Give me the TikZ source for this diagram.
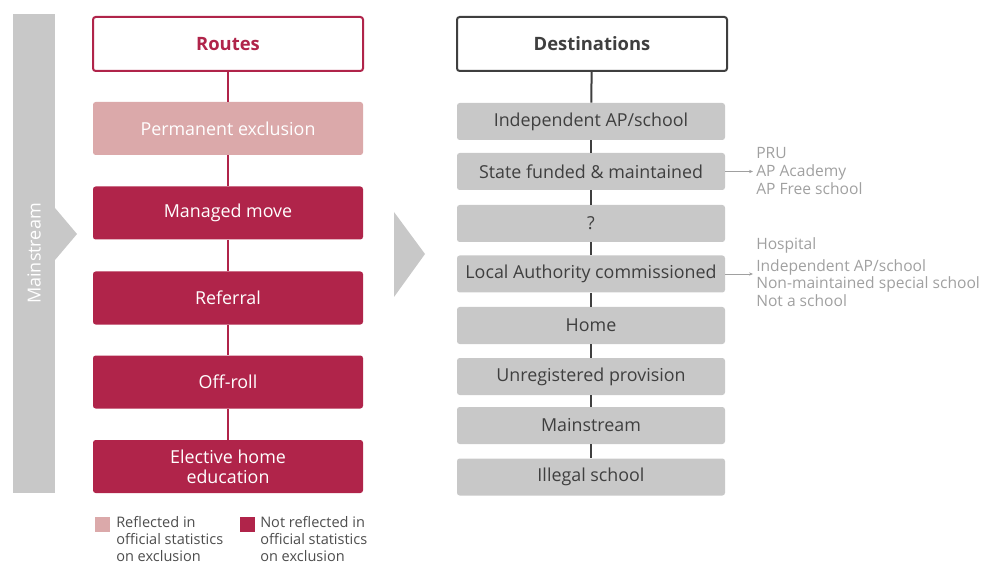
\documentclass[tikz,border=0pt]{standalone}
\usepackage{fontspec}
\setmainfont{Open Sans}
\usepackage{tikz}
\usetikzlibrary{arrows.meta}

\definecolor{routered}{HTML}{B0244A}
\definecolor{routepink}{HTML}{DBA9AA}
\definecolor{boxgrey}{HTML}{C8C8C8}
\definecolor{darkline}{HTML}{3F3F3F}
\definecolor{listgrey}{HTML}{A0A0A0}
\definecolor{legendtext}{HTML}{4D4D4D}

\tikzset{
  headbox/.style={fill=white,line width=1.5pt,rounded corners=2pt,
    minimum width=202.5pt,minimum height=40.5pt,
    font=\fontsize{13.8}{16}\selectfont\bfseries},
  routehead/.style={headbox,draw=routered,text=routered},
  desthead/.style={headbox,draw=darkline,text=darkline},
  routebox/.style={rounded corners=2pt,minimum width=202.5pt,minimum height=39.75pt,
    text=white,align=center,font=\fontsize{13.4}{15}\selectfont},
  destbox/.style={fill=boxgrey,rounded corners=2pt,minimum width=201pt,minimum height=27.75pt,
    text=darkline,font=\fontsize{13.4}{15}\selectfont},
  sidelist/.style={anchor=west,inner sep=0pt,text=listgrey,align=left,
    font=\fontsize{11.7}{13.2}\selectfont},
  legendkey/.style={minimum size=11.25pt,inner sep=0pt},
  legendlabel/.style={anchor=north west,inner sep=0pt,text=legendtext,align=left,
    font=\fontsize{10.9}{12.75}\selectfont},
}

\begin{document}
\begin{tikzpicture}[x=0.75pt,y=-0.75pt]
\useasboundingbox (0,0) rectangle (984,566);

% mainstream bar and the two big arrows
\node[fill=boxgrey,rotate=90,minimum width=359.25pt,minimum height=31.5pt,
  text=white,font=\fontsize{13.5}{15}\selectfont] (mainstream) at (34,253.5) {Mainstream};
\fill[boxgrey] (55,208) -- (77,234) -- (55,260) -- cycle;
\fill[boxgrey] (394,212) -- (425,254) -- (394,297) -- cycle;

% routes
\node[routehead] (routes) at (228,44) {Routes};
\node[routebox,fill=routepink] (permanent) at (228,128.5) {Permanent exclusion};
\node[routebox,fill=routered] (managed) at (228,213) {Managed move};
\node[routebox,fill=routered] (referral) at (228,298) {Referral};
\node[routebox,fill=routered] (offroll) at (228,382) {Off-roll};
\node[routebox,fill=routered] (elective) at (228,466.5) {Elective home\\education};
\draw[routered,line width=1.5pt] (routes) -- (permanent);
\draw[routered,line width=1.5pt] (permanent) -- (managed);
\draw[routered,line width=1.5pt] (managed) -- (referral);
\draw[routered,line width=1.5pt] (referral) -- (offroll);
\draw[routered,line width=1.5pt] (offroll) -- (elective);

% destinations
\node[desthead] (dest) at (592,44) {Destinations};
\node[destbox] (independent) at (591,121.5) {Independent AP/school};
\node[destbox] (statefunded) at (591,171.5) {State funded \& maintained};
\node[destbox] (unknown) at (591,223.5) {?};
\node[destbox] (lacomm) at (591,274) {Local Authority commissioned};
\node[destbox] (home) at (591,325.5) {Home};
\node[destbox] (unregistered) at (591,376.5) {Unregistered provision};
\node[destbox] (mainschool) at (591,425.5) {Mainstream};
\node[destbox] (illegal) at (591,477) {Illegal school};
\draw[darkline,line width=1.5pt] (dest) -- (independent);
\draw[darkline,line width=1.5pt] (independent) -- (statefunded);
\draw[darkline,line width=1.5pt] (statefunded) -- (unknown);
\draw[darkline,line width=1.5pt] (unknown) -- (lacomm);
\draw[darkline,line width=1.5pt] (lacomm) -- (home);
\draw[darkline,line width=1.5pt] (home) -- (unregistered);
\draw[darkline,line width=1.5pt] (unregistered) -- (mainschool);
\draw[darkline,line width=1.5pt] (mainschool) -- (illegal);

% side lists
\node[sidelist] (statelist) at (756,171) {PRU\\AP Academy\\AP Free school};
\node[sidelist] (lalist) at (756,272) {Hospital\\[3pt]Independent AP/school\\Non-maintained special school\\Not a school};
\draw[listgrey,line width=0.6pt,-{Stealth[length=3pt,width=2.5pt]}] (statefunded.east) -- ([xshift=-2.25pt]statefunded.east -| statelist.west);
\draw[listgrey,line width=0.6pt,-{Stealth[length=3pt,width=2.5pt]}] (lacomm.east) -- ([xshift=-2.25pt]lacomm.east -| lalist.west);

% legend
\node[legendkey,fill=routepink] (keypink) at (102.5,524.5) {};
\node[legendlabel] (keypinktext) at (116,516) {Reflected in\\official statistics\\on exclusion};
\node[legendkey,fill=routered] (keyred) at (247.5,524.5) {};
\node[legendlabel] (keyredtext) at (260,516) {Not reflected in\\official statistics\\on exclusion};
\end{tikzpicture}
\end{document}
